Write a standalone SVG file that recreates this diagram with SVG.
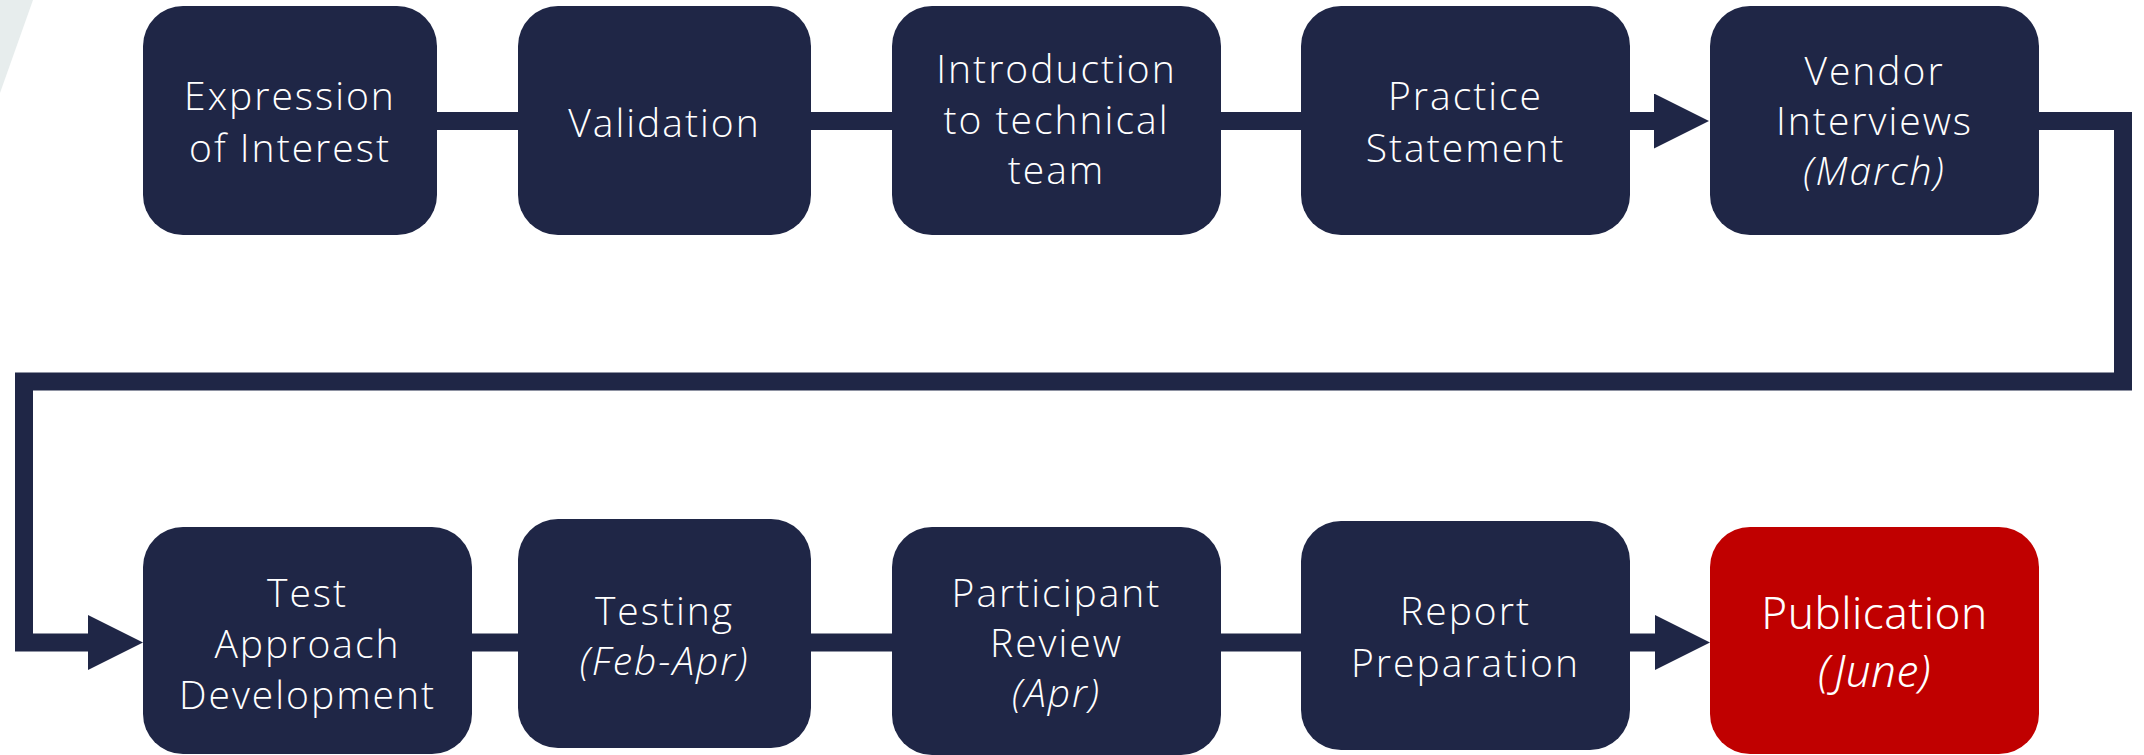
<svg xmlns="http://www.w3.org/2000/svg" width="2144" height="755" viewBox="0 0 2144 755">
  <style>
    .box { fill: #1F2646; }
    .box.final { fill: #C00000; }
    .lbl { font-family: "Open Sans", "Lato", "Liberation Sans", sans-serif; font-weight: 300; font-size: 39px; fill: #FFFFFF; text-anchor: middle; letter-spacing: 2px; }
    .lbl .it { font-style: italic; }
    .lbl2 { font-family: "Noto Sans", "Open Sans", "Liberation Sans", sans-serif; font-weight: 350; font-size: 44px; fill: #FFFFFF; text-anchor: middle; letter-spacing: 0.5px; }
    .lbl2 .it { font-style: italic; }
    .conn { fill: none; stroke: #1F2646; stroke-width: 18; stroke-linejoin: miter; stroke-linecap: butt; }
  </style>
  <defs>
    <marker id="head" markerUnits="userSpaceOnUse" viewBox="0 0 55 55" markerWidth="55" markerHeight="55" refX="1" refY="27.5" orient="auto">
      <path d="M0,0 L55,27.5 L0,55 Z" fill="#1F2646"/>
    </marker>
  </defs>

  <!-- decorative corner wedge -->
  <polygon points="0,0 33,0 0,93" fill="#E7EDED"/>

  <!-- flow connectors -->
  <g id="connectors">
    <path class="conn" d="M437,121 H518"/>
    <path class="conn" d="M811,121 H892"/>
    <path class="conn" d="M1220,121 H1301"/>
    <path class="conn" d="M1630,121 H1655" marker-end="url(#head)"/>
    <path class="conn" d="M2039,121 H2123 V381.5 H24 V642.5 H89" marker-end="url(#head)"/>
    <path class="conn" d="M472,642.5 H518"/>
    <path class="conn" d="M811,642.5 H892"/>
    <path class="conn" d="M1220,642.5 H1301"/>
    <path class="conn" d="M1630,642.5 H1656" marker-end="url(#head)"/>
  </g>

  <!-- top row -->
  <g id="expression-of-interest">
    <rect class="box" x="143" y="6" width="294" height="229" rx="40"/>
    <text class="lbl" x="290"><tspan x="290" y="110">Expression</tspan><tspan x="290" y="162">of Interest</tspan></text>
  </g>
  <g id="validation">
    <rect class="box" x="518" y="6" width="293" height="229" rx="40"/>
    <text class="lbl" x="664.5" y="137">Validation</text>
  </g>
  <g id="introduction">
    <rect class="box" x="892" y="6" width="329" height="229" rx="40"/>
    <text class="lbl"><tspan x="1056.5" y="83">Introduction</tspan><tspan x="1056.5" y="134">to technical</tspan><tspan x="1056.5" y="184">team</tspan></text>
  </g>
  <g id="practice-statement">
    <rect class="box" x="1301" y="6" width="329" height="229" rx="40"/>
    <text class="lbl"><tspan x="1465.5" y="110">Practice</tspan><tspan x="1465.5" y="162">Statement</tspan></text>
  </g>
  <g id="vendor-interviews">
    <rect class="box" x="1710" y="6" width="329" height="229" rx="40"/>
    <text class="lbl"><tspan x="1874.5" y="85">Vendor</tspan><tspan x="1874.5" y="135">Interviews</tspan><tspan class="it" x="1874.5" y="185">(March)</tspan></text>
  </g>

  <!-- bottom row -->
  <g id="test-approach">
    <rect class="box" x="143" y="527" width="329" height="227" rx="40"/>
    <text class="lbl"><tspan x="307.5" y="607">Test</tspan><tspan x="307.5" y="658">Approach</tspan><tspan x="307.5" y="709">Development</tspan></text>
  </g>
  <g id="testing">
    <rect class="box" x="518" y="519" width="293" height="229" rx="40"/>
    <text class="lbl"><tspan x="664.5" y="625">Testing</tspan><tspan class="it" x="664.5" y="675">(Feb-Apr)</tspan></text>
  </g>
  <g id="participant-review">
    <rect class="box" x="892" y="527" width="329" height="228" rx="40"/>
    <text class="lbl"><tspan x="1056.5" y="607">Participant</tspan><tspan x="1056.5" y="657">Review</tspan><tspan class="it" x="1056.5" y="707">(Apr)</tspan></text>
  </g>
  <g id="report-preparation">
    <rect class="box" x="1301" y="521" width="329" height="229" rx="40"/>
    <text class="lbl"><tspan x="1465.5" y="625">Report</tspan><tspan x="1465.5" y="677">Preparation</tspan></text>
  </g>
  <g id="publication">
    <rect class="box final" x="1710" y="527" width="329" height="227" rx="40"/>
    <text class="lbl2"><tspan x="1874.5" y="629">Publication</tspan><tspan class="it" x="1874.5" y="687">(June)</tspan></text>
  </g>
</svg>
